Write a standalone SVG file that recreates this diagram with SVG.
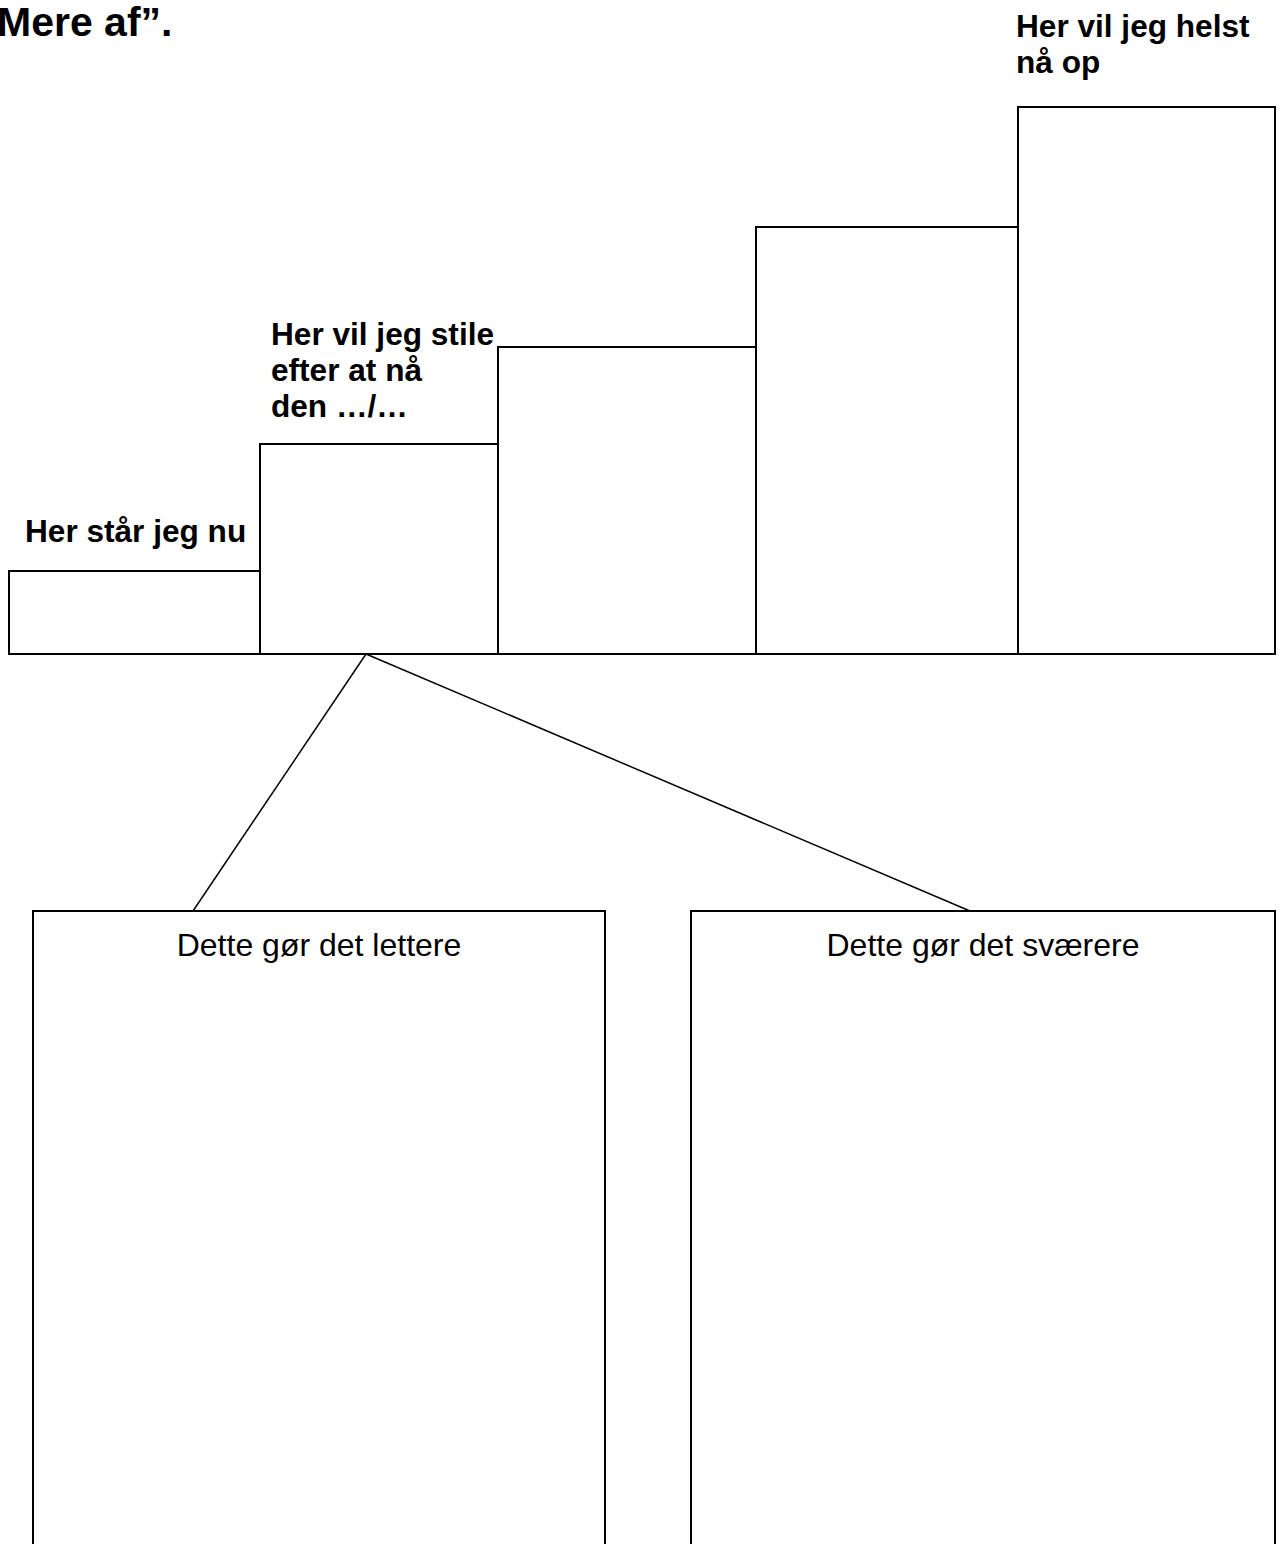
<svg xmlns="http://www.w3.org/2000/svg" width="1280" height="1544" viewBox="0 0 1280 1544">
<style>
.box{fill:#fff;stroke:#000;stroke-width:2}
.b{font-family:"Liberation Sans",Arial,sans-serif;font-weight:bold;font-size:31.6px;fill:#000}
.r{font-family:"Liberation Sans",Arial,sans-serif;font-size:32px;fill:#000;text-anchor:middle}
.con{stroke:#000;stroke-width:1.5;fill:none}
</style>
<rect width="1280" height="1544" fill="#fff"/>
<text class="b" x="-3" y="36" style="font-size:41px">Mere af”.</text>
<g id="step1"><rect class="box" x="9" y="571" width="251" height="83"/>
<text class="b" x="25" y="542">Her står jeg nu</text></g>
<g id="step2"><rect class="box" x="260" y="444" width="238" height="210"/>
<text class="b" x="271" y="345">Her vil jeg stile</text>
<text class="b" x="271" y="381">efter at nå</text>
<text class="b" x="271" y="417">den …/…</text></g>
<g id="step3"><rect class="box" x="498" y="347" width="258" height="307"/></g>
<g id="step4"><rect class="box" x="756" y="227" width="262" height="427"/></g>
<g id="step5"><rect class="box" x="1018" y="107" width="257" height="547"/>
<text class="b" x="1016" y="37">Her vil jeg helst</text>
<text class="b" x="1016" y="73">nå op</text></g>
<g id="connectors">
<line class="con" x1="366" y1="654" x2="193" y2="911"/>
<line class="con" x1="366" y1="654" x2="970" y2="911"/>
</g>
<g id="easier"><rect class="box" x="33" y="911" width="572" height="700"/>
<text class="r" x="319" y="956">Dette gør det lettere</text></g>
<g id="harder"><rect class="box" x="691" y="911" width="584" height="700"/>
<text class="r" x="983" y="956">Dette gør det sværere</text></g>
</svg>
